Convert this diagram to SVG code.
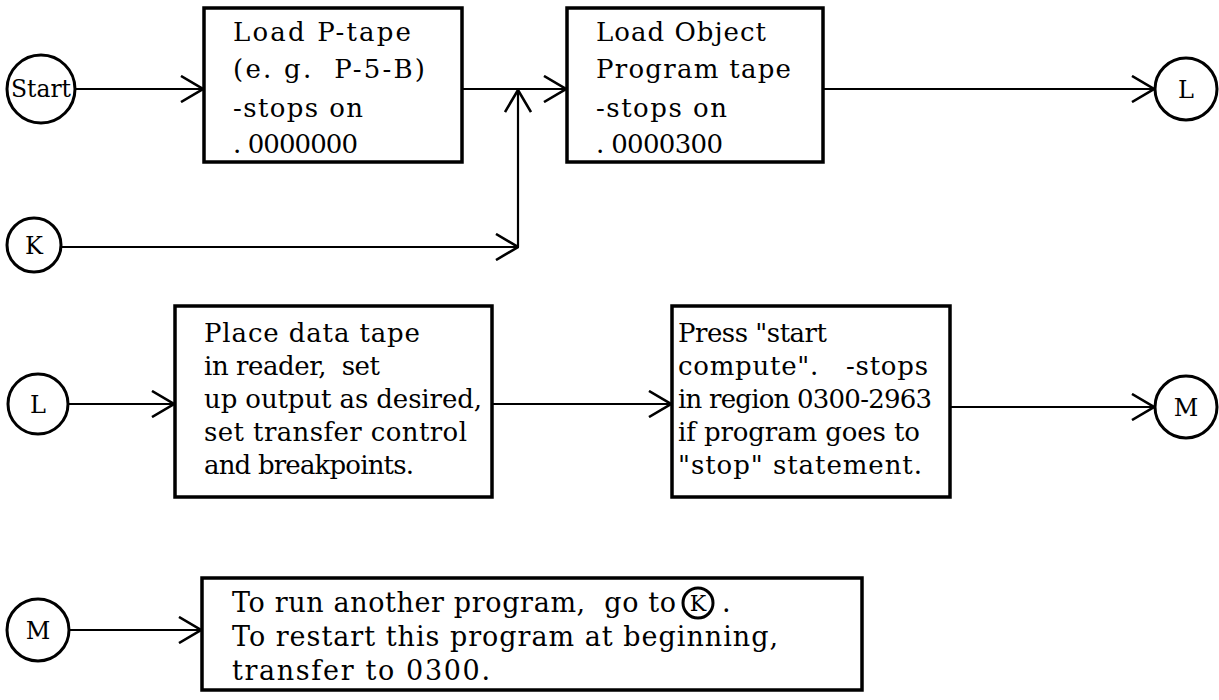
<svg xmlns="http://www.w3.org/2000/svg" width="1219" height="700" viewBox="0 0 1219 700">
<style>
.box{fill:#fff;stroke:#000;stroke-width:3.5}
.circ{fill:#fff;stroke:#000;stroke-width:3}
.ln{fill:none;stroke:#000;stroke-width:2.2}
text{font-family:"DejaVu Serif","Liberation Serif",serif;font-size:26px;fill:#000}
.c{text-anchor:middle}
.lab{font-size:24px}
.b5{font-size:27px}
</style>
<defs>
<marker id="chev" viewBox="0 0 24 28" refX="23" refY="14" markerWidth="24" markerHeight="28" markerUnits="userSpaceOnUse" orient="auto">
<path d="M1,1 L23,14 L1,27" fill="none" stroke="#000" stroke-width="2.6"/>
</marker>
</defs>
<rect width="1219" height="700" fill="#fff"/>
<g id="connectors">
<line class="ln" x1="75" y1="89" x2="203" y2="89" marker-end="url(#chev)"/>
<line class="ln" x1="462" y1="89" x2="566" y2="89" marker-end="url(#chev)"/>
<line class="ln" x1="61" y1="247" x2="518" y2="247" marker-end="url(#chev)"/>
<line class="ln" x1="518" y1="247" x2="518" y2="90" marker-end="url(#chev)"/>
<line class="ln" x1="823" y1="89" x2="1154" y2="89" marker-end="url(#chev)"/>
<line class="ln" x1="68" y1="404" x2="174" y2="404" marker-end="url(#chev)"/>
<line class="ln" x1="492" y1="404" x2="671" y2="404" marker-end="url(#chev)"/>
<line class="ln" x1="950" y1="407" x2="1154" y2="407" marker-end="url(#chev)"/>
<line class="ln" x1="70" y1="630" x2="201" y2="630" marker-end="url(#chev)"/>
</g>
<g id="start"><circle class="circ" cx="41" cy="89" r="34"/><text class="c lab" x="41" y="97" textLength="60" lengthAdjust="spacingAndGlyphs">Start</text></g>
<g id="k1"><circle class="circ" cx="34" cy="245" r="27"/><text class="c lab" x="34" y="254">K</text></g>
<g id="box1"><rect class="box" x="204" y="8" width="258" height="154"/>
<text x="233" y="41" textLength="178">Load P-tape</text>
<text x="233" y="78" textLength="192" xml:space="preserve">(e. g.  P-5-B)</text>
<text x="233" y="117" textLength="130">-stops on</text>
<text x="233" y="153" textLength="125">. 0000000</text></g>
<g id="box2"><rect class="box" x="567" y="8" width="256" height="154"/>
<text x="596" y="41" textLength="170">Load Object</text>
<text x="596" y="78" textLength="195">Program tape</text>
<text x="596" y="117" textLength="131">-stops on</text>
<text x="596" y="153" textLength="127">. 0000300</text></g>
<g id="l1"><circle class="circ" cx="1186" cy="89" r="31"/><text class="c lab" x="1186" y="98">L</text></g>
<g id="l2"><circle class="circ" cx="38" cy="404" r="30"/><text class="c lab" x="38" y="413">L</text></g>
<g id="box3"><rect class="box" x="175" y="306" width="317" height="191"/>
<text x="204" y="342" textLength="216">Place data tape</text>
<text x="204" y="375" textLength="176" xml:space="preserve">in reader,  set</text>
<text x="204" y="408" textLength="278">up output as desired,</text>
<text x="204" y="441" textLength="263">set transfer control</text>
<text x="204" y="474" textLength="210">and breakpoints.</text></g>
<g id="box4"><rect class="box" x="672" y="306" width="278" height="191"/>
<text x="678" y="342" textLength="149">Press "start</text>
<text x="678" y="375" textLength="250" xml:space="preserve">compute".   -stops</text>
<text x="678" y="408" textLength="254">in region 0300-2963</text>
<text x="678" y="441" textLength="242">if program goes to</text>
<text x="678" y="474" textLength="244">"stop" statement.</text></g>
<g id="m1"><circle class="circ" cx="1186" cy="407" r="31"/><text class="c lab" x="1186" y="416">M</text></g>
<g id="m2"><circle class="circ" cx="38" cy="630" r="31"/><text class="c lab" x="38" y="639">M</text></g>
<g id="box5"><rect class="box" x="202" y="578" width="660" height="112"/>
<text class="b5" x="232" y="612" textLength="444" xml:space="preserve">To run another program,  go to</text>
<circle class="circ" cx="698" cy="603" r="15" stroke-width="2.2"/><text class="c" x="698" y="611" style="font-size:22px">K</text>
<text class="b5" x="722" y="612">.</text>
<text class="b5" x="232" y="646" textLength="546">To restart this program at beginning,</text>
<text class="b5" x="232" y="680" textLength="258">transfer to 0300.</text></g>
</svg>
